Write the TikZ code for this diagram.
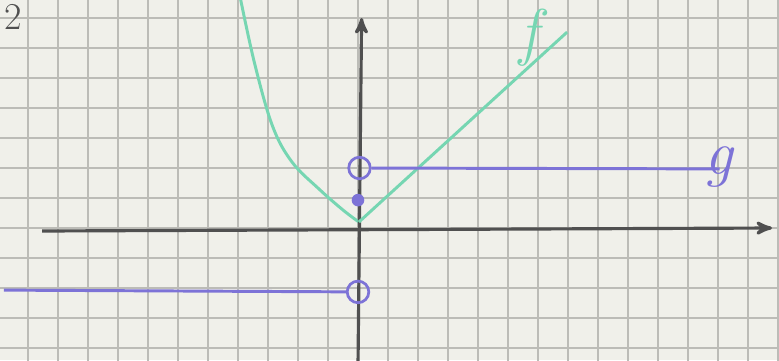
\documentclass[tikz,border=0pt]{standalone}
\usepackage{tikz}
\usetikzlibrary{arrows,positioning}
\definecolor{paper}{RGB}{240,240,234}
\definecolor{gridgray}{RGB}{188,188,183}
\definecolor{pencil}{RGB}{80,80,80}
\definecolor{penblue}{RGB}{125,115,215}
\definecolor{mint}{RGB}{118,214,178}

\begin{document}
\begin{tikzpicture}[x=0.5cm,y=0.5cm,>=stealth',
  axis/.style={draw=pencil,line width=1.5pt,->},
  gline/.style={draw=penblue,line width=1.4pt},
  fline/.style={draw=mint,line width=1.4pt},
  opendot/.style={circle,draw=penblue,line width=1.3pt,inner sep=0pt,minimum size=0.36cm},
  fulldot/.style={circle,fill=penblue,inner sep=0pt,minimum size=0.21cm},
  fname/.style={font=\fontsize{30}{30}\selectfont\itshape}]
\fill[paper] (-11.933,-4.4) rectangle (14.033,7.6);
\useasboundingbox (-11.933,-4.4) rectangle (14.033,7.6);
\begin{scope}
\clip (-11.933,-4.4) rectangle (14.033,7.6);
\draw[gridgray,line width=0.9pt,step=0.5cm] (-12,-5) grid (15,8);
\draw[fline] plot[smooth,tension=0.6] coordinates {(-3.95,7.8) (-3.45,5.5) (-2.85,3.4) (-2.2,2.2) (-1.3,1.3) (-0.5,0.6) (0.03,0.2)};
\end{scope}
\node[pencil,font=\fontsize{18}{18}\selectfont] (part) at (-11.5,7.05) {2};

\coordinate (xl) at (-10.53,-0.1);
\coordinate (xr) at (13.8,0);
\coordinate (yb) at (0,-4.6);
\coordinate (yt) at (0.12,7.0);
\draw[axis] (xl) -- (xr);
\draw[axis] (yb) -- (yt);

\coordinate (fv) at (0.03,0.2);
\coordinate (fr) at (6.97,6.53);
\draw[fline] (fv) -- (fr);
\node[fname,text=mint] (flab) at (5.7,6.35) {f};

\node[opendot] (gup) at (0.05,2.0) {};
\coordinate (gupend) at (12.05,1.97);
\draw[gline] (gup) -- (gupend);
\node[fulldot] (gdot) at (0,0.93) {};
\node[opendot] (glow) at (0,-2.13) {};
\coordinate (glowend) at (-11.8,-2.07);
\draw[gline] (glow) -- (glowend);
\node[fname,text=penblue,anchor=base] (glab) at (12.03,1.77) {g};
\end{tikzpicture}
\end{document}
